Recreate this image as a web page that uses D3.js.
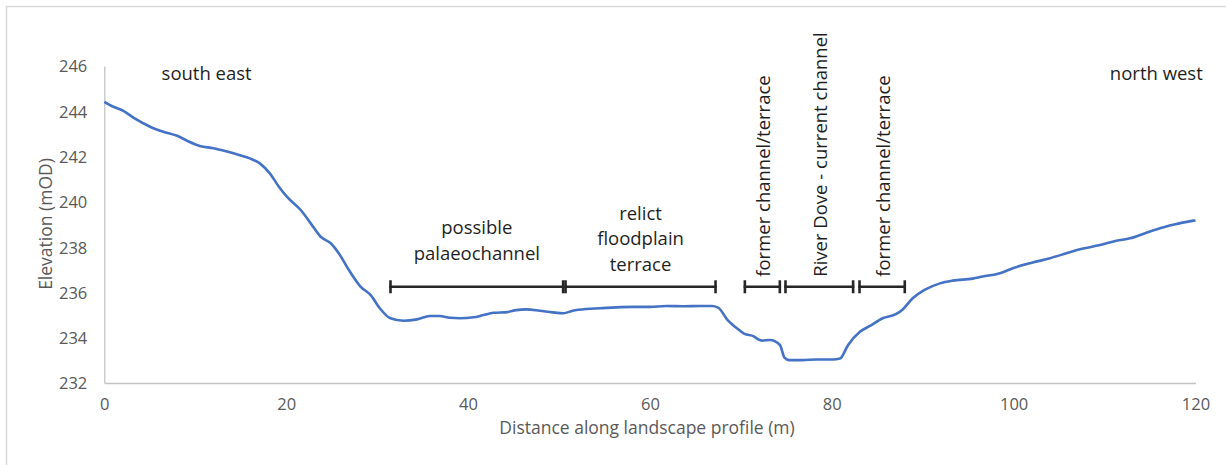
<!DOCTYPE html>
<html>
<head>
<meta charset="utf-8">
<script src="https://cdn.jsdelivr.net/npm/d3@7"></script>
<style>
  body { margin: 0; background: #fff; }
  svg { display: block; font-family: "Open Sans", sans-serif; }
  .axis text { fill: #595959; font-size: 16.5px; font-family: "Open Sans", sans-serif; }
  .axis path { stroke: #c4c4c4; stroke-width: 1.3; }
  .note { fill: #1f1f1f; font-size: 18.5px; }
  .title { fill: #595959; font-size: 17.5px; }
</style>
</head>
<body>
<div id="chart"></div>
<script>
// profile readings (distance m, elevation mOD)
var distance = [0, 1, 2.1, 3.2, 4.3, 5.4, 6.5, 8.0, 9.1, 10.5, 12.0, 13.5, 14.9, 16.0, 17.1, 18.2,
  19.2, 20.1, 21.6, 22.7, 23.8, 24.9, 25.8, 26.9, 28.2, 29.3, 30.3, 31.4, 32.9, 34.4, 35.8, 36.9,
  38.0, 39.1, 40.6, 41.7, 42.8, 44.3, 45.3, 46.4, 47.9, 49.3, 50.5, 51.5, 53.0, 54.5, 56.3, 58.1,
  60.0, 61.8, 63.7, 65.5, 66.8, 67.5, 68.6, 69.5, 70.4, 71.3, 72.3, 73.2, 74.3, 74.8, 75.3, 76.8,
  78.3, 80.1, 80.9, 81.8, 83.1, 84.2, 85.6, 87.1, 87.8, 88.9, 90.2, 91.9, 93.3, 95.5, 96.6, 98.5,
  99.9, 102.1, 104.0, 105.8, 107.3, 109.5, 111.3, 112.8, 114.6, 116.5, 117.9, 119.8, 120];
var elevation = [244.42, 244.20, 244.02, 243.72, 243.47, 243.25, 243.10, 242.92, 242.70, 242.47,
  242.37, 242.22, 242.06, 241.92, 241.70, 241.26, 240.67, 240.22, 239.64, 239.05, 238.46, 238.17,
  237.72, 236.99, 236.25, 235.88, 235.30, 234.87, 234.75, 234.81, 234.96, 234.96, 234.88, 234.86,
  234.90, 235.00, 235.10, 235.13, 235.22, 235.25, 235.19, 235.12, 235.08, 235.19, 235.27, 235.30,
  235.34, 235.36, 235.36, 235.40, 235.39, 235.40, 235.40, 235.33, 234.75, 234.44, 234.17, 234.08,
  233.87, 233.90, 233.68, 233.12, 233.01, 233.01, 233.04, 233.04, 233.08, 233.68, 234.26, 234.52,
  234.86, 235.05, 235.25, 235.74, 236.11, 236.40, 236.52, 236.61, 236.70, 236.85, 237.07, 237.32,
  237.51, 237.73, 237.91, 238.09, 238.28, 238.39, 238.64, 238.88, 239.02, 239.17, 239.18];

var xTicks = [0, 20, 40, 60, 80, 100, 120];
var yTicks = [232, 234, 236, 238, 240, 242, 244, 246];

// annotated stretches of the profile
var segStart = [31.34, 50.59, 70.31, 74.78, 82.92];
var segEnd = [50.59, 67.35, 74.42, 82.48, 88.16];
var segLevel = 236.25;
var segLines = [["possible", "palaeochannel"], ["relict", "floodplain", "terrace"], [], [], []];
var segVertical = ["", "", "former channel/terrace", "River Dove - current channel", "former channel/terrace"];

var svgWidth = 1226, svgHeight = 465;
var margin = { top: 66, right: 30.5, bottom: 82, left: 104.3 };
var chartWidth = svgWidth - margin.left - margin.right;
var chartHeight = svgHeight - margin.top - margin.bottom;

var svg = d3.select("#chart").append("svg")
  .attr("width", svgWidth)
  .attr("height", svgHeight);

// chart frame (only top and left edges show in the picture)
svg.append("path")
  .attr("d", "M6.5," + svgHeight + "V6.5H" + svgWidth)
  .attr("fill", "none")
  .attr("stroke", "#d9d9d9")
  .attr("stroke-width", 1.5);

var chartGroup = svg.append("g")
  .attr("transform", `translate(${margin.left}, ${margin.top})`);

var xScale = d3.scaleLinear().domain([0, 120]).range([0, chartWidth]);
var yScale = d3.scaleLinear().domain([232, 246]).range([chartHeight, 0]);

chartGroup.append("g")
  .attr("class", "axis")
  .attr("transform", `translate(0, ${chartHeight})`)
  .call(d3.axisBottom(xScale).tickValues(xTicks).tickSize(0).tickPadding(15))
  .call(g => g.selectAll(".tick line").remove());

chartGroup.append("g")
  .attr("class", "axis")
  .call(d3.axisLeft(yScale).tickValues(yTicks).tickSize(0).tickPadding(17))
  .call(g => g.selectAll(".tick line").remove())
  .call(g => g.selectAll(".tick text").attr("dy", "0.36em"));

// profile line
var profile = distance.map((d, i) => [d, elevation[i]]);
chartGroup.append("path")
  .datum(profile)
  .attr("fill", "none")
  .attr("stroke", "#4472c4")
  .attr("stroke-width", 2.6)
  .attr("stroke-linejoin", "round")
  .attr("d", d3.line()
    .x(d => xScale(d[0]))
    .y(d => yScale(d[1]))
    .curve(d3.curveMonotoneX));

// range bars with end ticks
var segY = yScale(segLevel);
segStart.forEach(function(s, i) {
  var x0 = xScale(s), x1 = xScale(segEnd[i]);
  var g = chartGroup.append("g")
    .attr("stroke", "#262626")
    .attr("stroke-width", 2.6);
  g.append("line").attr("x1", x0).attr("x2", x1).attr("y1", segY).attr("y2", segY);
  g.append("line").attr("x1", x0 + 1.2).attr("x2", x0 + 1.2).attr("y1", segY - 6.5).attr("y2", segY + 6.5);
  g.append("line").attr("x1", x1 - 1.2).attr("x2", x1 - 1.2).attr("y1", segY - 6.5).attr("y2", segY + 6.5);

  var cx = (x0 + x1) / 2;
  var lines = segLines[i];
  if (lines.length) {
    var lastBase = segY - (lines.length === 2 ? 26.7 : 16);
    var step = lines.length === 2 ? 26.5 : 25.3;
    chartGroup.append("text")
      .attr("class", "note")
      .attr("text-anchor", "middle")
      .selectAll("tspan")
      .data(lines)
      .enter()
      .append("tspan")
      .attr("x", cx)
      .attr("y", (d, j) => lastBase - (lines.length - 1 - j) * step)
      .text(d => d);
  }
  if (segVertical[i]) {
    chartGroup.append("text")
      .attr("class", "note")
      .attr("transform", `translate(${cx + 7.5}, ${segY - 10}) rotate(-90)`)
      .text(segVertical[i]);
  }
});

// direction labels
chartGroup.append("text")
  .attr("class", "note")
  .attr("x", xScale(6.3))
  .attr("y", yScale(245.4))
  .text("south east");

chartGroup.append("text")
  .attr("class", "note")
  .attr("text-anchor", "end")
  .attr("x", xScale(120.8))
  .attr("y", yScale(245.4))
  .text("north west");

// axis titles
svg.append("text")
  .attr("class", "title")
  .attr("x", 647)
  .attr("y", 434)
  .attr("text-anchor", "middle")
  .text("Distance along landscape profile (m)");

svg.append("text")
  .attr("class", "title")
  .attr("transform", "translate(52, 224) rotate(-90)")
  .attr("text-anchor", "middle")
  .text("Elevation (mOD)");
</script>
</body>
</html>
